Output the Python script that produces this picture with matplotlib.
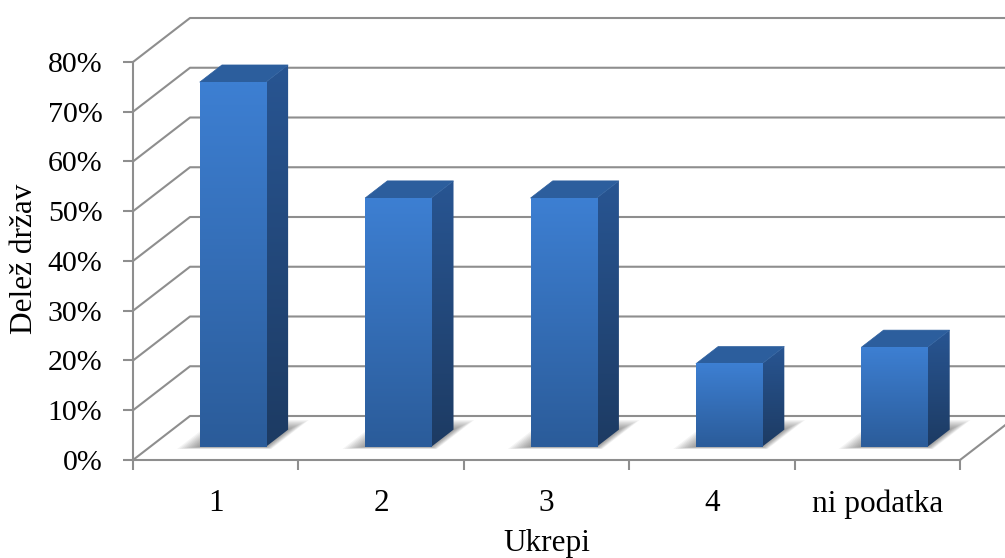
import numpy as np
import matplotlib
matplotlib.use("Agg")
import matplotlib.pyplot as plt
from matplotlib.patches import Polygon
from matplotlib.colors import to_rgb

# Data
categories = ["1", "2", "3", "4", "ni podatka"]
shares = [73.3, 50.0, 50.0, 16.7, 20.0]          # percent of countries
y_ticks = [0, 10, 20, 30, 40, 50, 60, 70, 80]
y_tick_labels = [f"{t}%" for t in y_ticks]
x_title = "Ukrepi"
y_title = "Delež držav"

# Oblique projection of the depth axis (in data units)
OX = 0.3446    # horizontal shift of the back wall, category units
OY = 8.844     # vertical shift of the back wall, percent units
D0, D1 = 0.30, 0.69   # front/back planes of the bars (fraction of depth)
HALF_W = 0.20

GRID = "#8e8e8e"
FRONT_TOP, FRONT_BOT = "#3d7fd2", "#2b5c9a"
SIDE_TOP, SIDE_BOT = "#285592", "#1d3b63"
TOP_FACE = "#2c5e9d"

plt.rcParams["font.family"] = ["Liberation Serif", "DejaVu Serif"]

fig = plt.figure(figsize=(10.05, 5.58), dpi=100)
ax = fig.add_axes([133 / 1005, 98 / 558, 884 / 1005, 442 / 558])
ax.set_xlim(0, len(categories) + OX)
ax.set_ylim(0, y_ticks[-1] + OY)
ax.patch.set_visible(False)


def proj(x, y, d):
    return (x + d * OX, y + d * OY)


# Walls: gridlines running up the left wall and along the back wall
n = len(categories)
for v in y_ticks:
    ax.plot([0, OX, n + OX], [v, v + OY, v + OY], color=GRID, lw=1.5,
            solid_capstyle="butt", zorder=1, clip_on=False)
# Right edge of the floor
ax.plot([n, n + OX], [0, OY], color=GRID, lw=1.5, zorder=1, clip_on=False)


def gradient(c_top, c_bot, steps=64):
    t = np.linspace(0, 1, steps)[:, None]
    a, b = np.array(to_rgb(c_bot)), np.array(to_rgb(c_top))
    return (a + (b - a) * t)[:, None, :]


for i, v in enumerate(shares):
    c = i + 0.5
    xl, xr = c - HALF_W, c + HALF_W

    # Soft shadow on the floor around the base
    for k in range(10, 0, -1):
        e = k / 10
        quad = [proj(xl - 0.12 * e, 0, D0 - 0.05 * e),
                proj(xr + 0.05 * e, 0, D0 - 0.05 * e),
                proj(xr + 0.05 * e, 0, D1 + 0.22 * e),
                proj(xl - 0.12 * e, 0, D1 + 0.22 * e)]
        ax.add_patch(Polygon(quad, closed=True, facecolor="black",
                             edgecolor="none", alpha=0.045, zorder=2))

    # Side face with vertical gradient
    side = [proj(xr, 0, D0), proj(xr, 0, D1), proj(xr, v, D1), proj(xr, v, D0)]
    side_poly = Polygon(side, closed=True, facecolor="none", edgecolor="none")
    ax.add_patch(side_poly)
    im = ax.imshow(gradient(SIDE_TOP, SIDE_BOT), origin="lower", aspect="auto",
                   extent=(xr + D0 * OX, xr + D1 * OX, D0 * OY, v + D1 * OY),
                   interpolation="bilinear", zorder=3)
    im.set_clip_path(side_poly)

    # Top face
    top = [proj(xl, v, D0), proj(xr, v, D0), proj(xr, v, D1), proj(xl, v, D1)]
    ax.add_patch(Polygon(top, closed=True, facecolor=TOP_FACE,
                         edgecolor=TOP_FACE, lw=0.5, zorder=3))

    # Front face with vertical gradient
    fx0, fy0 = proj(xl, 0, D0)
    fx1, fy1 = proj(xr, v, D0)
    ax.imshow(gradient(FRONT_TOP, FRONT_BOT), origin="lower", aspect="auto",
              extent=(fx0, fx1, fy0, fy1), interpolation="bilinear", zorder=4)

# Front axes
for side in ("top", "right"):
    ax.spines[side].set_visible(False)
for side in ("left", "bottom"):
    ax.spines[side].set_color(GRID)
    ax.spines[side].set_linewidth(1.5)
ax.spines["left"].set_bounds(0, y_ticks[-1])
ax.spines["bottom"].set_bounds(0, n)

ax.set_yticks(y_ticks)
ax.set_yticklabels(y_tick_labels)
ax.tick_params(axis="y", direction="out", length=7, width=1.5, color=GRID,
               pad=15, labelsize=21.5)

ax.set_xticks(np.arange(n + 1))
ax.set_xticklabels([])
ax.set_xticks(np.arange(n) + 0.5, minor=True)
ax.set_xticklabels(categories, minor=True)
ax.tick_params(axis="x", which="major", direction="out", length=7, width=1.5,
               color=GRID)
ax.tick_params(axis="x", which="minor", length=0, pad=21, labelsize=22.5)

ax.set_xlabel(x_title, fontsize=22.5)
ax.set_ylabel(y_title, fontsize=22.5)
ax.xaxis.set_label_coords((546.5 - 133) / 884, (460 - 529) / 442)
ax.yaxis.set_label_coords((39 - 133) / 884, (460 - 259) / 442)

fig.savefig("out.png", dpi=100)
